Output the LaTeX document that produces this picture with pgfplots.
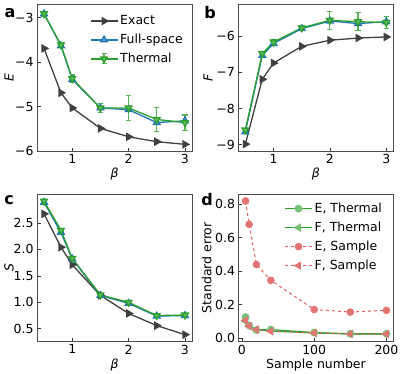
\documentclass[border=0pt]{standalone}
\usepackage{fontspec}
\setmainfont{DejaVu Sans}
\usepackage{pgfplots}
\pgfplotsset{compat=1.18}

\definecolor{tblue}{HTML}{1F77B4}
\definecolor{tgreen}{HTML}{2CA02C}
\definecolor{tred}{HTML}{D62728}
\definecolor{dgray}{HTML}{404040}

\pgfplotsset{
  panel/.style={
    scale only axis, width=155pt, height=147pt,
    anchor=south west,
    font=\fontsize{12.5}{14}\selectfont,
    /pgf/number format/assume math mode=true,
    tick align=inside, xtick pos=bottom, ytick pos=left,
    major tick length=3.5pt,
    axis line style={black!70, line width=0.8pt},
    every tick/.style={black!80, line width=0.7pt},
    xlabel style={yshift=2.5pt},
    legend cell align=left,
    legend style={draw=none, fill=none, inner sep=0pt,
      font=\fontsize{12.5}{14}\selectfont, row sep=4pt},
    legend image code/.code={
      \draw[mark repeat=2,mark phase=2,##1] plot coordinates {(0pt,0pt) (13.5pt,0pt) (27pt,0pt)};},
  },
  beta/.style={xmin=0.375, xmax=3.125, xtick={1,2,3}, xlabel={\textit{β}}},
  exact/.style={color=dgray, line width=1.3pt, mark=triangle*, mark size=3.8pt,
    mark options={rotate=-90, solid}},
  full/.style={color=tblue, line width=1.3pt, mark=triangle*, mark size=3.8pt,
    mark options={fill=tblue!75, solid}},
  therm/.style={color=tgreen, line width=1.3pt, mark=triangle*, mark size=3.8pt,
    mark options={rotate=180, fill=tgreen!75, solid},
    error bars/y dir=both, error bars/y explicit,
    error bars/error bar style={line width=1.2pt, tgreen!80},
    error bars/error mark options={rotate=90, mark size=2.6pt, line width=1.2pt, tgreen!80}},
  thermleg/.style={legend image code/.code={
    \draw[##1] (0pt,0pt) -- (27pt,0pt);
    \draw[tgreen!80, line width=1.2pt] (13.5pt,-5pt) -- (13.5pt,5pt) (11pt,-5pt) -- (16pt,-5pt) (11pt,5pt) -- (16pt,5pt);
    \draw[mark repeat=2,mark phase=2,##1] plot coordinates {(0pt,0pt) (13.5pt,0pt) (27pt,0pt)};}},
  ylab/.style={ylabel style={at={(axis description cs:#1,0.5)}, anchor=center}},
}

\begin{document}
\begin{tikzpicture}
\useasboundingbox (0,0) rectangle (415pt,373pt);

% a: energy
\begin{axis}[panel, beta, at={(37pt,222pt)},
  ymin=-6.0, ymax=-2.69, ytick={-6,-5,-4,-3}, yticklabels={−6,−5,−4,−3},
  ylabel={\textit{E}}, ylab=-0.18,
  legend style={at={(0.34,0.935)}, anchor=north west}]
\addplot[exact] coordinates {(0.5,-3.69) (0.8,-4.69) (1,-5.03) (1.5,-5.49) (2,-5.68) (2.5,-5.79) (3,-5.85)};
\addlegendentry{Exact}
\addplot[full] coordinates {(0.5,-2.91) (0.8,-3.63) (1,-4.39) (1.5,-5.03) (2,-5.07) (2.5,-5.36) (3,-5.32)};
\addlegendentry{Full-space}
\addplot[thermleg, therm] table[y error index=2] {
x y e
0.5 -2.91 0.05
0.8 -3.61 0.05
1 -4.37 0.08
1.5 -5.03 0.10
2 -5.03 0.28
2.5 -5.29 0.27
3 -5.36 0.17
};
\addlegendentry{Thermal}
\end{axis}

% b: free energy
\begin{axis}[panel, beta, at={(238.3pt,222pt)},
  ymin=-9.17, ymax=-5.11, ytick={-9,-8,-7,-6}, yticklabels={−9,−8,−7,−6},
  ylabel={\textit{F}}, ylab=-0.195]
\addplot[exact] coordinates {(0.5,-8.98) (0.8,-7.19) (1,-6.74) (1.5,-6.28) (2,-6.11) (2.5,-6.05) (3,-6.02)};
\addplot[full] coordinates {(0.5,-8.64) (0.8,-6.53) (1,-6.20) (1.5,-5.79) (2,-5.58) (2.5,-5.65) (3,-5.60)};
\addplot[therm] table[y error index=2] {
x y e
0.5 -8.59 0.05
0.8 -6.48 0.05
1 -6.16 0.06
1.5 -5.77 0.07
2 -5.56 0.25
2.5 -5.60 0.25
3 -5.62 0.17
};
\end{axis}

% c: entropy
\begin{axis}[panel, beta, at={(37pt,31.7pt)},
  ymin=0.264, ymax=3.04, ytick={0.5,1,1.5,2,2.5},
  yticklabel style={/pgf/number format/.cd, fixed, fixed zerofill, precision=1},
  ylabel={\textit{S}}, ylab=-0.18]
\addplot[exact] coordinates {(0.5,2.67) (0.8,2.04) (1,1.71) (1.5,1.13) (2,0.79) (2.5,0.56) (3,0.39)};
\addplot[full] coordinates {(0.5,2.89) (0.8,2.32) (1,1.82) (1.5,1.13) (2,0.98) (2.5,0.74) (3,0.75)};
\addplot[therm] table[y error index=2] {
x y e
0.5 2.91 0.02
0.8 2.36 0.02
1 1.83 0.02
1.5 1.14 0.02
2 1.00 0.02
2.5 0.75 0.02
3 0.76 0.02
};
\end{axis}

% d: standard error
\begin{axis}[panel, at={(238.5pt,31.7pt)},
  xmin=-4.75, xmax=209.75, xtick={0,100,200},
  ymin=-0.02, ymax=0.86, ytick={0,0.2,0.4,0.6,0.8},
  yticklabel style={/pgf/number format/.cd, fixed, fixed zerofill, precision=1},
  xlabel={Sample number}, ylabel={Standard error}, ylab=-0.205,
  legend style={at={(0.295,0.955)}, anchor=north west}]
\addplot[color=tgreen, line width=1.2pt, mark=*, mark size=3.3pt,
  mark options={fill=tgreen!65, draw=tgreen!65, solid}]
  coordinates {(5,0.125) (10,0.075) (20,0.048) (40,0.05) (100,0.032) (150,0.025) (200,0.025)};
\addlegendentry{E, Thermal}
\addplot[color=tgreen, line width=1.2pt, mark=triangle*, mark size=3.8pt,
  mark options={rotate=90, fill=tgreen!65, draw=tgreen!65, solid}]
  coordinates {(5,0.10) (10,0.07) (20,0.05) (40,0.042) (100,0.03) (150,0.024) (200,0.024)};
\addlegendentry{F, Thermal}
\addplot[color=tred!75, line width=1pt, dashed, mark=*, mark size=3.3pt,
  mark options={fill=tred!65, draw=tred!65, solid}]
  coordinates {(5,0.82) (10,0.68) (20,0.44) (40,0.345) (100,0.17) (150,0.155) (200,0.165)};
\addlegendentry{E, Sample}
\addplot[color=tred!75, line width=1pt, dashed, mark=triangle*, mark size=3.8pt,
  mark options={rotate=90, fill=tred!65, draw=tred!65, solid}]
  coordinates {(5,0.105) (10,0.072) (20,0.05) (40,0.04) (100,0.03) (150,0.024) (200,0.024)};
\addlegendentry{F, Sample}
\end{axis}

\node[font=\fontsize{16}{18}\selectfont\bfseries] at (10pt,360pt) {a};
\node[font=\fontsize{16}{18}\selectfont\bfseries] at (210pt,360pt) {b};
\node[font=\fontsize{16}{18}\selectfont\bfseries] at (9pt,173pt) {c};
\node[font=\fontsize{16}{18}\selectfont\bfseries] at (207pt,173pt) {d};
\end{tikzpicture}
\end{document}
